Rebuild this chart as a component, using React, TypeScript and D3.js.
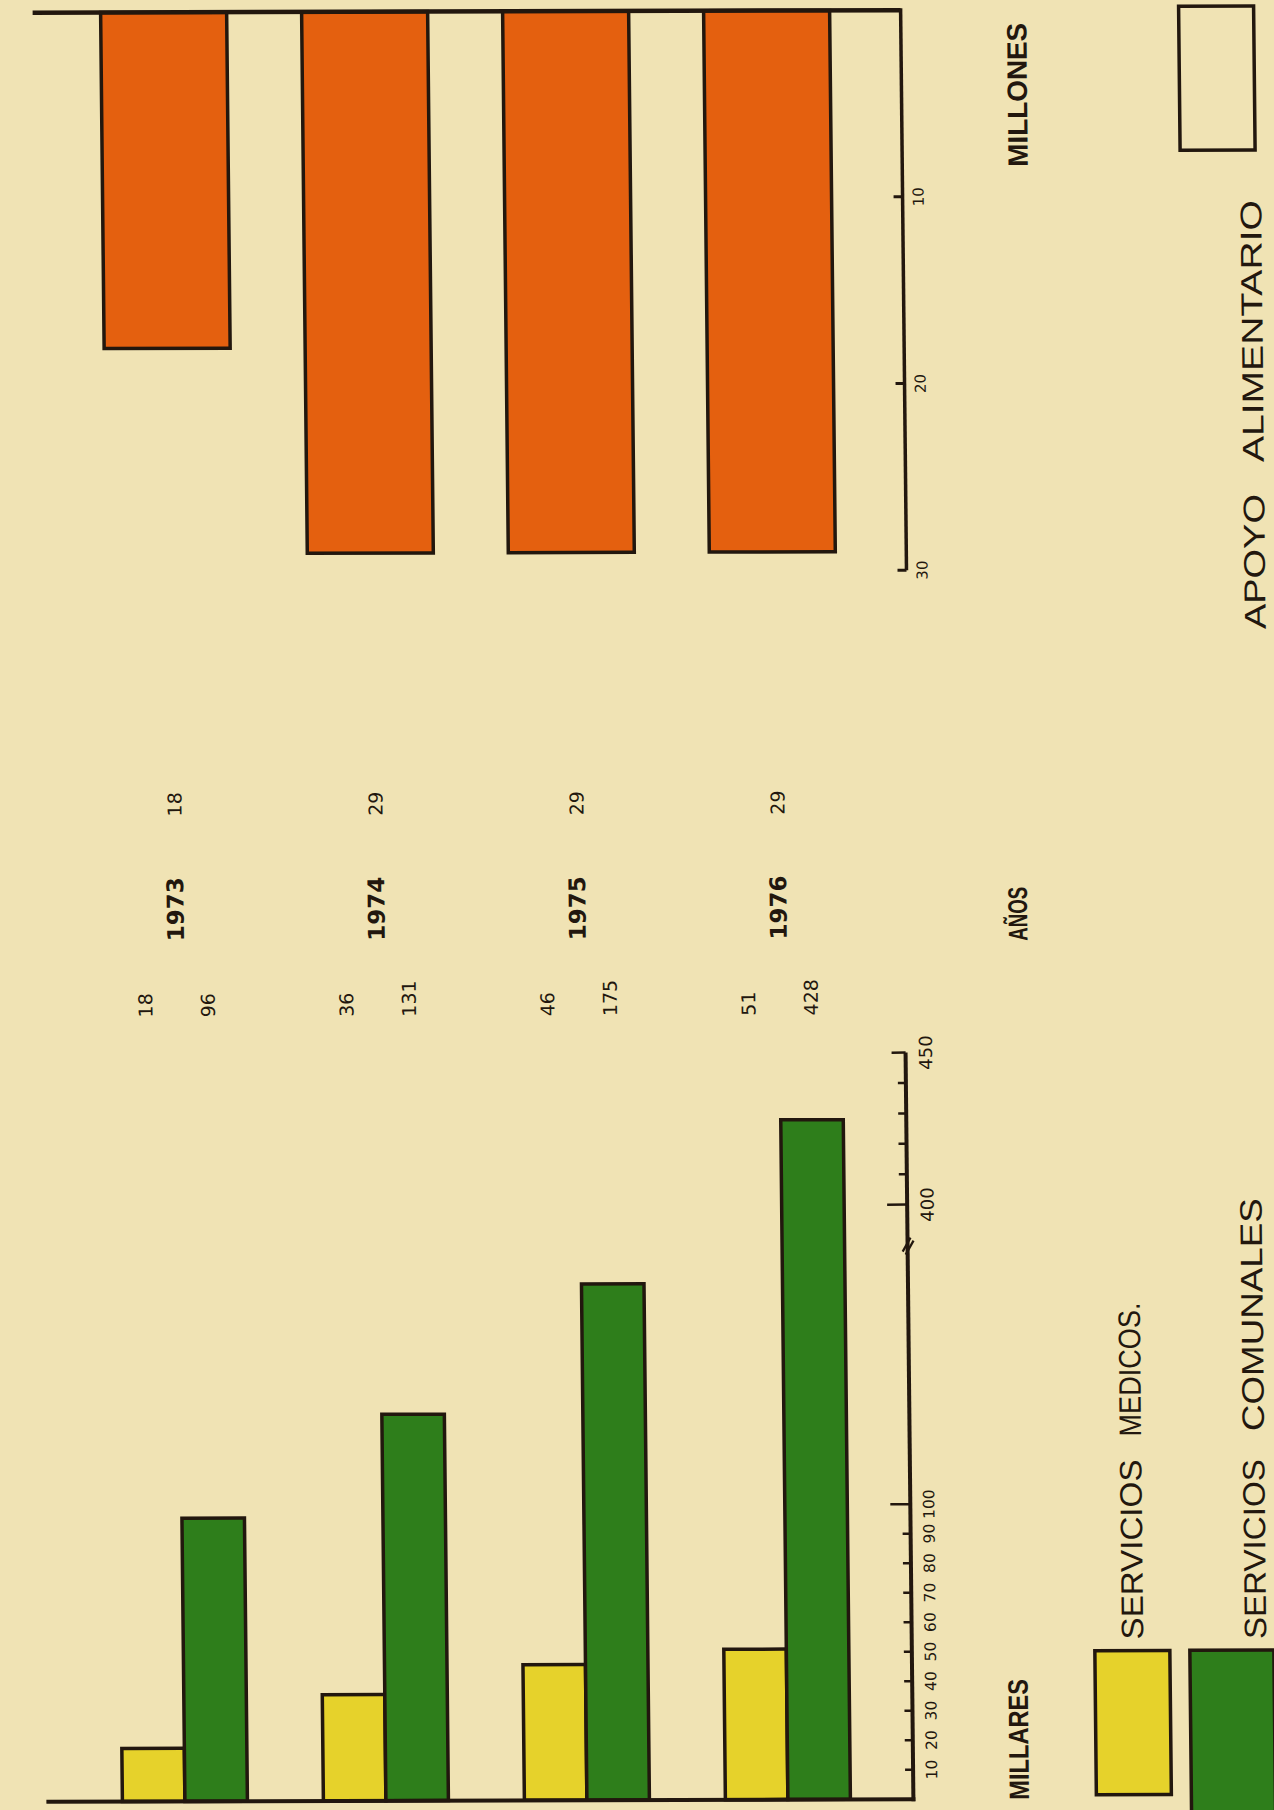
import * as React from "react"
import * as d3 from "d3"

// data
const years = ["1973", "1974", "1975", "1976"]
const medicos = [18, 36, 46, 51]          // millares
const comunales = [96, 131, 175, 428]     // millares
const apoyo = [18, 29, 29, 29]            // millones
const millaresMinor = [10, 20, 30, 40, 50, 60, 70, 80, 90]
const millaresMajor = [100, 400, 450]
const millaresUpperMinor = [410, 420, 430, 440]
const millaresLabels = [10, 20, 30, 40, 50, 60, 70, 80, 90, 100]
const millaresUpperLabels = [400, 450]
const millonesTicks = [10, 20, 30]

const W = 1274
const H = 1810
const paper = "#F0E3B4"
const ink = "#22170E"
const yellow = "#E6D22B"
const green = "#2E7E1B"
const orange = "#E4600F"

const axisLow = 904
const axisTop = 910
const base = 1800

// band scale shared by both halves
const x = d3.scaleBand<string>().domain(years).range([113, 841]).paddingInner(0.378).paddingOuter(0)
const bw = x.bandwidth()

// broken axis (0-188 then jump to 388-450)
const yLow = d3.scaleLinear().domain([0, 188, 388, 450]).range([base, 1245.4, 1241.9, 1053.4])
// millones, hanging from the top line
const yTop = d3.scaleLinear().domain([0, 30]).range([11, 571])

const sans = "'Liberation Sans', Arial, sans-serif"
const geo = "'DejaVu Sans', sans-serif"

function VText(props: {
    x: number, y: number, size: number, anchor?: string, bold?: boolean,
    len?: number, font?: string, children: React.ReactNode,
}): JSX.Element {
    return (
        <text
            transform={`translate(${props.x},${props.y}) rotate(-90)`}
            textAnchor={props.anchor || "middle"}
            dominantBaseline="central"
            fontFamily={props.font || sans}
            fontWeight={props.bold ? "bold" : "normal"}
            fontSize={props.size}
            fill={ink}
            textLength={props.len}
            lengthAdjust={props.len ? "spacingAndGlyphs" : undefined}
        >
            {props.children}
        </text>
    )
}

export default function App(): JSX.Element {
    return (
        <svg width={W} height={H} style={{ position: "absolute", left: 0, top: 0, background: paper }}>
            <rect x={0} y={0} width={W} height={H} fill={paper} />
            {/* the scan is slightly skewed */}
            <g transform="matrix(1 -0.003 0.0105 1 -9.5 1.9)">
                {/* APOYO ALIMENTARIO bars */}
                {years.map((yr, i) => (
                    <rect key={"o" + yr} x={(x(yr) || 0) - 3} y={yTop(0)} width={bw + 1}
                        height={yTop(apoyo[i]) - yTop(0)}
                        fill={orange} stroke={ink} strokeWidth={3.5} />
                ))}
                <line x1={42} x2={axisTop} y1={yTop(0)} y2={yTop(0)} stroke={ink} strokeWidth={4.5} />
                <line x1={axisTop} x2={axisTop} y1={yTop(0) - 2} y2={yTop(30)} stroke={ink} strokeWidth={3.5} />
                {millonesTicks.map(t => (
                    <g key={"mt" + t}>
                        <line x1={axisTop - 9} x2={axisTop} y1={yTop(t)} y2={yTop(t)} stroke={ink} strokeWidth={3} />
                        <VText x={axisTop + 16} y={yTop(t)} size={15} font={geo}>{t}</VText>
                    </g>
                ))}

                {/* SERVICIOS bars */}
                {years.map((yr, i) => (
                    <g key={"b" + yr}>
                        <rect x={x(yr) || 0} y={yLow(medicos[i])} width={bw / 2}
                            height={base - yLow(medicos[i])}
                            fill={yellow} stroke={ink} strokeWidth={3.5} />
                        <rect x={(x(yr) || 0) + bw / 2} y={yLow(comunales[i])} width={bw / 2}
                            height={base - yLow(comunales[i])}
                            fill={green} stroke={ink} strokeWidth={3.5} />
                    </g>
                ))}
                <line x1={37} x2={axisLow + 2} y1={base} y2={base} stroke={ink} strokeWidth={4} />
                <line x1={axisLow} x2={axisLow} y1={base + 2} y2={yLow(450)} stroke={ink} strokeWidth={4} />
                {millaresMinor.map(t => (
                    <line key={"lm" + t} x1={axisLow - 8} x2={axisLow} y1={yLow(t)} y2={yLow(t)} stroke={ink} strokeWidth={2.5} />
                ))}
                {millaresUpperMinor.map(t => (
                    <line key={"um" + t} x1={axisLow - 8} x2={axisLow} y1={yLow(t)} y2={yLow(t)} stroke={ink} strokeWidth={2.5} />
                ))}
                {millaresMajor.map(t => (
                    <line key={"mj" + t} x1={axisLow - (t === 450 ? 14 : 20)} x2={axisLow} y1={yLow(t)} y2={yLow(t)} stroke={ink} strokeWidth={2.5} />
                ))}
                {millaresLabels.map(t => (
                    <VText key={"ll" + t} x={axisLow + 19} y={yLow(t)} size={15.5} font={geo}>{t}</VText>
                ))}
                {millaresUpperLabels.map(t => (
                    <VText key={"ul" + t} x={axisLow + 20} y={yLow(t)} size={18} font={geo}>{t}</VText>
                ))}
                {/* axis break */}
                <line x1={axisLow - 5} x2={axisLow + 3} y1={yLow(300) + 9} y2={yLow(300) - 5} stroke={ink} strokeWidth={2.2} />
                <line x1={axisLow - 2} x2={axisLow + 6} y1={yLow(300) + 12} y2={yLow(300) - 2} stroke={ink} strokeWidth={2.2} />

                {/* value and year labels */}
                {years.map((yr, i) => {
                    const x0 = x(yr) || 0
                    return (
                        <g key={"lab" + yr}>
                            <VText x={x0 + bw / 2} y={yTop(0) + 792} size={19} font={geo}>{apoyo[i]}</VText>
                            <VText x={x0 + bw / 2} y={908} size={23} bold font={geo}>{yr}</VText>
                            <VText x={x0 + bw / 4} y={1016} size={19} anchor="start" font={geo}>{medicos[i]}</VText>
                            <VText x={x0 + (3 * bw) / 4} y={1016} size={19} anchor="start" font={geo}>{comunales[i]}</VText>
                        </g>
                    )
                })}

                {/* unit titles */}
                <VText x={1026} y={168} size={28} bold anchor="start" len={144}>MILLONES</VText>
                <VText x={1018} y={915} size={27} bold len={54}>AÑOS</VText>
                <VText x={1010} y={1801} size={28} bold anchor="start" len={121}>MILLARES</VText>

                {/* legends */}
                <rect x={1188} y={8} width={75} height={144} fill="none" stroke={ink} strokeWidth={3.5} />
                <VText x={1258} y={464} size={30} anchor="start" len={262}>ALIMENTARIO</VText>
                <VText x={1258} y={631} size={30} anchor="start" len={135}>APOYO</VText>

                <rect x={1087} y={1652} width={75} height={144} fill={yellow} stroke={ink} strokeWidth={3.5} />
                <VText x={1125} y={1641} size={31} anchor="start" len={180}>SERVICIOS</VText>
                <VText x={1125} y={1438} size={31} anchor="start" len={134}>MEDICOS.</VText>

                <rect x={1182} y={1652} width={84} height={175} fill={green} stroke={ink} strokeWidth={3.5} />
                <VText x={1248} y={1641} size={31} anchor="start" len={180}>SERVICIOS</VText>
                <VText x={1248} y={1433} size={31} anchor="start" len={233}>COMUNALES</VText>
            </g>
        </svg>
    )
}
